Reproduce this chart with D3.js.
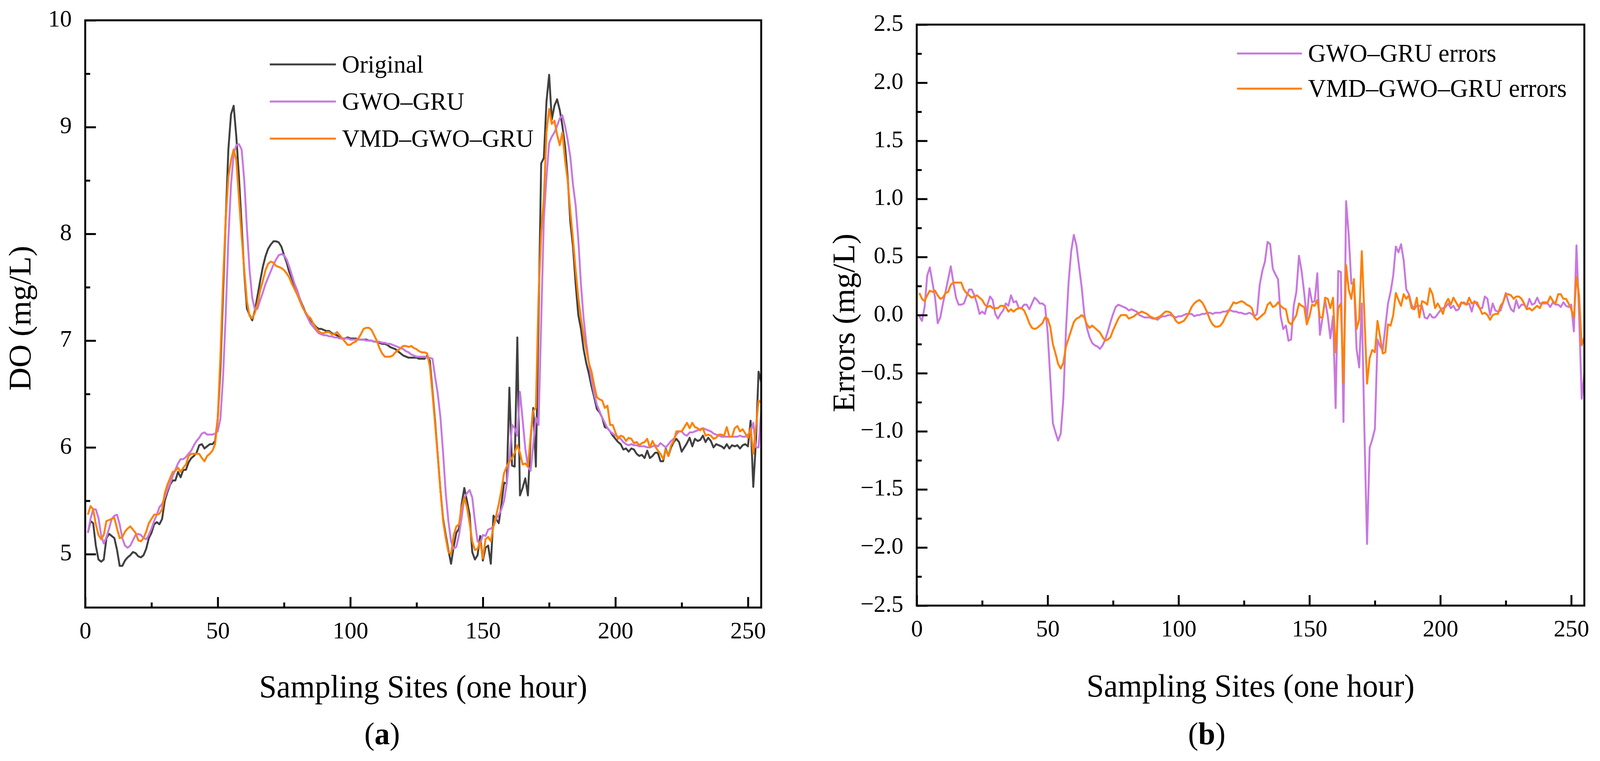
<!DOCTYPE html>
<html lang="en">
<head>
<meta charset="UTF-8" />
<title>DO prediction and errors</title>
<script src="https://cdn.jsdelivr.net/npm/d3@7"></script>
<style>
  html, body { margin: 0; padding: 0; background: #fff; overflow: hidden; }
  svg { display: block; }
  svg text { font-family: "Palatino Linotype", "Book Antiqua", Palatino, "Liberation Serif", serif; fill: #000; }
</style>
</head>
<body>
<script>
// sampling sites (x = 1..255)
const sites = d3.range(1, 256);

// panel (a): dissolved oxygen, mg/L
const doOriginal = [
  5.20, 5.31, 5.29, 5.08, 4.95, 4.93, 4.95, 5.15, 5.19, 5.17,
  5.15, 5.04, 4.89, 4.89, 4.94, 4.97, 4.99, 5.02, 5.01, 4.98,
  4.97, 4.99, 5.05, 5.15, 5.20, 5.28, 5.30, 5.28, 5.33, 5.50,
  5.58, 5.65, 5.69, 5.69, 5.77, 5.72, 5.79, 5.79, 5.86, 5.90,
  5.92, 5.95, 6.02, 6.03, 5.99, 6.01, 6.03, 6.03, 6.06, 6.27,
  6.73, 7.43, 8.14, 8.79, 9.12, 9.20, 8.91, 8.53, 8.08, 7.63,
  7.30, 7.24, 7.19, 7.28, 7.42, 7.56, 7.69, 7.79, 7.86, 7.90,
  7.93, 7.93, 7.92, 7.88, 7.80, 7.73, 7.64, 7.58, 7.51, 7.45,
  7.39, 7.33, 7.27, 7.23, 7.19, 7.16, 7.13, 7.11, 7.11, 7.10,
  7.09, 7.09, 7.07, 7.06, 7.05, 7.03, 7.02, 7.02, 7.03, 7.02,
  7.02, 7.02, 7.01, 7.01, 7.01, 7.01, 7.00, 7.00, 6.99, 6.99,
  6.98, 6.97, 6.97, 6.96, 6.94, 6.93, 6.92, 6.90, 6.88, 6.86,
  6.85, 6.84, 6.84, 6.84, 6.84, 6.83, 6.83, 6.83, 6.86, 6.81,
  6.53, 6.24, 5.92, 5.60, 5.33, 5.18, 5.04, 4.91, 5.07, 5.20,
  5.24, 5.47, 5.62, 5.50, 5.37, 5.02, 4.95, 4.99, 5.17, 4.94,
  5.06, 5.08, 4.91, 5.36, 5.33, 5.29, 5.47, 5.67, 5.66, 6.56,
  5.83, 5.82, 7.03, 5.55, 5.62, 5.71, 5.55, 6.08, 6.37, 5.82,
  7.20, 8.66, 8.71, 9.24, 9.49, 9.07, 9.20, 9.26, 9.16, 9.01,
  8.82, 8.53, 8.11, 7.88, 7.53, 7.24, 7.11, 6.92, 6.79, 6.69,
  6.57, 6.47, 6.36, 6.33, 6.28, 6.19, 6.18, 6.15, 6.11, 6.08,
  6.05, 6.03, 5.98, 5.99, 5.96, 5.99, 5.98, 5.94, 5.92, 5.93,
  5.90, 5.97, 5.90, 5.92, 5.95, 5.95, 5.87, 5.87, 5.99, 5.92,
  6.00, 6.05, 6.08, 6.05, 5.96, 6.00, 6.04, 6.09, 6.01, 6.08,
  6.06, 6.07, 6.11, 6.05, 6.09, 6.06, 6.00, 6.03, 6.02, 6.01,
  5.99, 6.03, 5.99, 6.02, 6.01, 6.02, 5.99, 6.02, 6.03, 6.01,
  6.25, 5.63, 6.05, 6.71, 6.61
];

const doGwoGru = [
  5.20, 5.33, 5.42, 5.42, 5.34, 5.18, 5.10, 5.16, 5.24, 5.33,
  5.36, 5.37, 5.28, 5.15, 5.08, 5.06, 5.08, 5.13, 5.18, 5.19,
  5.18, 5.15, 5.14, 5.18, 5.24, 5.31, 5.37, 5.44, 5.47, 5.53,
  5.60, 5.66, 5.73, 5.79, 5.85, 5.89, 5.89, 5.91, 5.94, 5.97,
  6.02, 6.06, 6.09, 6.13, 6.14, 6.12, 6.12, 6.12, 6.13, 6.15,
  6.27, 6.66, 7.24, 7.95, 8.46, 8.75, 8.83, 8.84, 8.79, 8.50,
  8.05, 7.66, 7.40, 7.29, 7.30, 7.38, 7.45, 7.53, 7.59, 7.65,
  7.71, 7.76, 7.80, 7.81, 7.80, 7.76, 7.69, 7.61, 7.53, 7.47,
  7.39, 7.32, 7.26, 7.21, 7.16, 7.13, 7.10, 7.07, 7.06, 7.05,
  7.05, 7.04, 7.04, 7.03, 7.03, 7.02, 7.02, 7.02, 7.02, 7.01,
  7.01, 7.01, 7.01, 7.01, 7.01, 7.00, 7.00, 7.00, 6.99, 6.99,
  6.99, 6.98, 6.98, 6.97, 6.97, 6.96, 6.95, 6.94, 6.93, 6.92,
  6.90, 6.89, 6.87, 6.86, 6.85, 6.85, 6.85, 6.85, 6.84, 6.84,
  6.83, 6.66, 6.50, 6.28, 5.95, 5.57, 5.31, 5.12, 5.05, 5.07,
  5.18, 5.34, 5.53, 5.57, 5.60, 5.53, 5.31, 5.12, 5.10, 5.18,
  5.17, 5.23, 5.24, 5.26, 5.33, 5.37, 5.42, 5.50, 5.66, 5.89,
  6.21, 6.18, 6.11, 6.52, 6.26, 5.99, 5.82, 5.78, 6.02, 6.28,
  6.21, 7.18, 8.14, 8.53, 8.85, 8.91, 8.95, 9.01, 9.08, 9.11,
  9.01, 8.88, 8.72, 8.46, 8.27, 7.95, 7.53, 7.21, 6.98, 6.79,
  6.63, 6.50, 6.40, 6.34, 6.28, 6.23, 6.18, 6.15, 6.13, 6.11,
  6.10, 6.08, 6.05, 6.03, 6.02, 6.03, 6.02, 6.02, 6.01, 6.01,
  6.01, 6.00, 6.00, 6.01, 6.02, 6.01, 6.04, 6.02, 6.00, 6.03,
  6.06, 6.08, 6.12, 6.15, 6.15, 6.12, 6.11, 6.14, 6.14, 6.15,
  6.16, 6.17, 6.18, 6.17, 6.16, 6.15, 6.13, 6.12, 6.11, 6.10,
  6.10, 6.10, 6.10, 6.10, 6.10, 6.10, 6.11, 6.10, 6.10, 6.12,
  6.15, 6.23, 6.00, 6.00, 6.34
];

const doVmdGwoGru = [
  5.37, 5.45, 5.42, 5.28, 5.18, 5.14, 5.18, 5.31, 5.32, 5.33,
  5.34, 5.24, 5.15, 5.16, 5.21, 5.24, 5.26, 5.23, 5.20, 5.13,
  5.12, 5.15, 5.21, 5.29, 5.33, 5.37, 5.37, 5.38, 5.42, 5.57,
  5.65, 5.71, 5.77, 5.78, 5.81, 5.77, 5.81, 5.84, 5.92, 5.94,
  5.94, 5.94, 5.94, 5.90, 5.87, 5.92, 5.94, 5.97, 6.03, 6.27,
  6.85, 7.56, 8.14, 8.53, 8.69, 8.79, 8.69, 8.33, 7.98, 7.66,
  7.37, 7.23, 7.21, 7.26, 7.35, 7.47, 7.56, 7.66, 7.72, 7.74,
  7.73, 7.70, 7.69, 7.68, 7.66, 7.63, 7.59, 7.53, 7.48, 7.43,
  7.37, 7.31, 7.27, 7.23, 7.21, 7.16, 7.12, 7.09, 7.07, 7.07,
  7.08, 7.08, 7.06, 7.06, 7.08, 7.05, 7.02, 6.99, 6.96, 6.96,
  6.98, 6.99, 7.02, 7.06, 7.11, 7.12, 7.12, 7.10, 7.05, 7.00,
  6.93, 6.88, 6.85, 6.85, 6.85, 6.86, 6.89, 6.91, 6.93, 6.95,
  6.95, 6.94, 6.95, 6.93, 6.92, 6.90, 6.89, 6.89, 6.88, 6.76,
  6.50, 6.21, 5.92, 5.60, 5.31, 5.15, 5.02, 5.00, 5.18, 5.26,
  5.28, 5.44, 5.53, 5.44, 5.29, 5.12, 5.04, 5.05, 5.12, 4.96,
  5.14, 5.16, 5.12, 5.26, 5.36, 5.47, 5.60, 5.76, 5.82, 5.87,
  5.90, 5.95, 6.02, 5.95, 5.84, 5.85, 5.82, 6.10, 6.34, 6.37,
  7.40, 8.01, 8.33, 8.95, 9.17, 9.03, 9.06, 8.93, 8.83, 8.95,
  8.69, 8.50, 8.21, 7.95, 7.66, 7.40, 7.21, 7.05, 6.92, 6.79,
  6.71, 6.58, 6.47, 6.45, 6.44, 6.37, 6.39, 6.21, 6.21, 6.14,
  6.08, 6.11, 6.10, 6.06, 6.09, 6.08, 6.04, 6.05, 6.02, 6.04,
  6.05, 6.08, 6.00, 6.06, 6.01, 5.97, 5.94, 5.89, 5.98, 5.92,
  6.02, 6.06, 6.15, 6.15, 6.15, 6.19, 6.23, 6.18, 6.23, 6.19,
  6.18, 6.16, 6.18, 6.11, 6.12, 6.11, 6.08, 6.09, 6.12, 6.12,
  6.11, 6.19, 6.10, 6.10, 6.18, 6.20, 6.15, 6.17, 6.13, 6.09,
  6.18, 5.94, 6.18, 6.44, 6.42
];

// panel (b): prediction errors, mg/L
const errGwoGru = [
  -0.01, -0.05, 0.07, 0.34, 0.41, 0.28, 0.15, -0.07, -0.02, 0.10,
  0.20, 0.31, 0.42, 0.28, 0.15, 0.09, 0.09, 0.10, 0.16, 0.22,
  0.22, 0.17, 0.10, 0.01, 0.03, 0.01, 0.09, 0.16, 0.13, 0.01,
  -0.03, 0.01, 0.04, 0.10, 0.08, 0.17, 0.11, 0.12, 0.06, 0.06,
  0.09, 0.09, 0.05, 0.10, 0.15, 0.13, 0.10, 0.10, 0.08, -0.15,
  -0.54, -0.93, -1.01, -1.08, -1.02, -0.72, -0.13, 0.28, 0.55, 0.69,
  0.60, 0.42, 0.24, 0.01, -0.11, -0.19, -0.24, -0.26, -0.27, -0.29,
  -0.26, -0.21, -0.14, -0.06, 0.01, 0.07, 0.09, 0.08, 0.07, 0.06,
  0.04, 0.05, 0.04, 0.03, 0.00, -0.01, -0.02, -0.02, -0.02, -0.03,
  -0.03, -0.04, -0.02, -0.01, -0.01, 0.00, 0.00, -0.01, -0.02, -0.01,
  -0.01, 0.00, 0.01, 0.01, 0.01, -0.01, 0.00, 0.00, 0.01, 0.01,
  0.02, 0.02, 0.01, 0.02, 0.02, 0.02, 0.03, 0.03, 0.04, 0.04,
  0.03, 0.03, 0.02, 0.02, 0.01, 0.01, 0.02, 0.01, -0.01, 0.01,
  0.26, 0.38, 0.46, 0.63, 0.61, 0.40, 0.35, 0.31, -0.01, -0.12,
  -0.09, -0.22, -0.21, 0.08, 0.20, 0.51, 0.38, 0.19, -0.03, 0.23,
  0.11, 0.12, 0.36, -0.17, -0.02, 0.13, -0.01, -0.20, -0.01, -0.80,
  0.38, 0.37, -0.92, 0.98, 0.69, 0.27, 0.28, -0.29, -0.45, 0.10,
  -1.00, -1.97, -1.14, -1.07, -0.98, -0.21, -0.27, -0.30, -0.10, 0.10,
  0.20, 0.34, 0.59, 0.54, 0.61, 0.47, 0.22, 0.18, 0.09, 0.05,
  0.08, 0.08, 0.08, -0.02, -0.03, 0.01, -0.02, -0.02, 0.01, 0.04,
  0.06, 0.07, 0.10, 0.06, 0.08, 0.04, 0.05, 0.10, 0.11, 0.09,
  0.10, 0.03, 0.12, 0.09, 0.06, 0.06, 0.16, 0.14, 0.00, 0.10,
  0.04, 0.03, 0.04, 0.11, 0.19, 0.11, 0.05, 0.03, 0.13, 0.06,
  0.09, 0.09, 0.06, 0.14, 0.09, 0.10, 0.15, 0.10, 0.10, 0.10,
  0.10, 0.07, 0.11, 0.09, 0.09, 0.07, 0.11, 0.08, 0.07, 0.09,
  -0.14, 0.60, 0.00, -0.72, -0.50
];

const errVmdGwoGru = [
  0.19, 0.14, 0.12, 0.17, 0.21, 0.20, 0.21, 0.17, 0.14, 0.15,
  0.19, 0.20, 0.26, 0.28, 0.28, 0.28, 0.28, 0.22, 0.19, 0.17,
  0.15, 0.16, 0.17, 0.15, 0.13, 0.09, 0.07, 0.08, 0.06, 0.06,
  0.06, 0.08, 0.08, 0.07, 0.03, 0.05, 0.03, 0.05, 0.06, 0.06,
  0.04, -0.01, -0.07, -0.11, -0.12, -0.11, -0.09, -0.07, -0.02, -0.03,
  -0.10, -0.25, -0.33, -0.42, -0.46, -0.41, -0.27, -0.20, -0.13, -0.06,
  -0.03, -0.02, 0.00, -0.02, -0.08, -0.11, -0.09, -0.11, -0.13, -0.15,
  -0.19, -0.22, -0.21, -0.19, -0.13, -0.08, -0.03, 0.00, 0.00, 0.00,
  -0.03, -0.02, -0.01, 0.01, 0.02, 0.03, 0.02, 0.01, -0.01, -0.02,
  -0.03, -0.02, -0.01, 0.01, 0.03, 0.03, 0.02, -0.01, -0.05, -0.07,
  -0.06, -0.05, -0.02, 0.02, 0.07, 0.10, 0.12, 0.13, 0.11, 0.07,
  0.02, -0.04, -0.08, -0.10, -0.10, -0.09, -0.06, -0.01, 0.03, 0.07,
  0.11, 0.10, 0.11, 0.12, 0.11, 0.09, 0.08, 0.06, -0.02, -0.04,
  -0.02, 0.00, 0.02, 0.09, 0.11, 0.07, 0.08, 0.11, 0.08, 0.06,
  0.05, -0.06, -0.08, -0.04, 0.00, 0.10, 0.08, 0.07, -0.08, -0.01,
  0.09, 0.08, 0.13, -0.02, -0.02, 0.15, 0.14, 0.06, 0.15, -0.32,
  0.06, 0.10, -0.58, 0.43, 0.22, 0.14, 0.31, -0.12, -0.04, 0.55,
  0.00, -0.59, -0.37, -0.30, -0.32, -0.05, -0.19, -0.33, -0.32, -0.08,
  -0.09, 0.00, 0.19, 0.13, 0.08, 0.18, 0.14, 0.17, 0.06, 0.05,
  0.15, -0.02, 0.12, 0.11, 0.09, 0.23, 0.18, 0.06, 0.10, 0.06,
  0.01, 0.10, 0.14, 0.09, 0.15, 0.11, 0.07, 0.11, 0.10, 0.09,
  0.15, 0.10, 0.11, 0.11, 0.06, 0.01, 0.02, 0.00, -0.04, 0.00,
  0.01, 0.01, 0.08, 0.11, 0.18, 0.18, 0.17, 0.14, 0.16, 0.16,
  0.14, 0.10, 0.05, 0.06, 0.04, 0.06, 0.08, 0.06, 0.11, 0.11,
  0.11, 0.16, 0.12, 0.10, 0.18, 0.18, 0.14, 0.14, 0.10, 0.05,
  -0.02, 0.33, 0.17, -0.26, -0.19
];

// ticks
const xTicks = [0, 50, 100, 150, 200, 250];
const xMinorTicks = [25, 75, 125, 175, 225];
const doTicks = [5, 6, 7, 8, 9, 10];
const doMinorTicks = [5.5, 6.5, 7.5, 8.5, 9.5];
const errTicks = [-2.5, -2.0, -1.5, -1.0, -0.5, 0.0, 0.5, 1.0, 1.5, 2.0, 2.5];
const errMinorTicks = [-2.25, -1.75, -1.25, -0.75, -0.25, 0.25, 0.75, 1.25, 1.75, 2.25];

const colors = { original: "#404040", gwo: "#c878e0", vmd: "#ff8000" };

const width = 4187;
const height = 1949;

// laid out in a 4187x1949 box, stretched to fill the window exactly
const svg = d3
  .select("body")
  .append("svg")
  .attr("viewBox", `0 0 ${width} ${height}`)
  .attr("preserveAspectRatio", "none")
  .style("width", "100vw")
  .style("height", "100vh");

function drawPanel(p) {
  const x = d3.scaleLinear().domain([0, 255]).range([p.left, p.right]);
  const y = d3.scaleLinear().domain(p.yDomain).range([p.bottom, p.top]);
  const g = svg.append("g");

  // series lines
  const line = d3
    .line()
    .x((d, i) => x(sites[i]))
    .y((d) => y(d));

  p.series.forEach((s) => {
    g.append("path")
      .datum(s.values)
      .attr("fill", "none")
      .attr("stroke", s.color)
      .attr("stroke-width", 5)
      .attr("stroke-linejoin", "round")
      .attr("d", line);
  });

  // ticks point inwards, minor ones shorter
  const tidy = (sel) => {
    sel.select(".domain").remove();
    sel.selectAll(".tick line").attr("stroke-width", 5);
    sel.selectAll("text").style("font-size", "62px");
  };

  g.append("g")
    .attr("transform", `translate(0,${p.bottom})`)
    .call(d3.axisBottom(x).tickValues(xMinorTicks).tickSizeInner(-13).tickSizeOuter(0).tickFormat(""))
    .call(tidy);
  g.append("g")
    .attr("transform", `translate(0,${p.bottom})`)
    .call(d3.axisBottom(x).tickValues(xTicks).tickSizeInner(-27).tickSizeOuter(0).tickPadding(35))
    .call(tidy);

  g.append("g")
    .attr("transform", `translate(${p.left},0)`)
    .call(d3.axisLeft(y).tickValues(p.yMinor).tickSizeInner(-13).tickSizeOuter(0).tickFormat(""))
    .call(tidy);
  g.append("g")
    .attr("transform", `translate(${p.left},0)`)
    .call(d3.axisLeft(y).tickValues(p.yTicks).tickSizeInner(-28).tickSizeOuter(0).tickPadding(35).tickFormat(p.yFormat))
    .call(tidy)
    .call((a) => a.selectAll("text").attr("dy", "0.25em"));

  // frame
  g.append("rect")
    .attr("x", p.left)
    .attr("y", p.top)
    .attr("width", p.right - p.left)
    .attr("height", p.bottom - p.top)
    .attr("fill", "none")
    .attr("stroke", "#000")
    .attr("stroke-width", 5);

  // axis titles
  g.append("text")
    .attr("x", (p.left + p.right) / 2)
    .attr("y", p.xTitleY)
    .attr("text-anchor", "middle")
    .style("font-size", "82px")
    .text("Sampling Sites (one hour)");

  g.append("text")
    .attr("transform", `translate(${p.yTitleX},${p.yTitleCy}) rotate(-90)`)
    .attr("text-anchor", "middle")
    .style("font-size", "82px")
    .text(p.yTitle);

  // panel label
  const lab = g
    .append("text")
    .attr("x", p.labelX)
    .attr("y", 1906)
    .attr("text-anchor", "middle")
    .style("font-size", "80px");
  lab.append("tspan").text("(");
  lab.append("tspan").attr("font-weight", "bold").text(p.label);
  lab.append("tspan").text(")");

  // legend
  p.series.forEach((s, i) => {
    const ly = p.legend.y0 + i * p.legend.dy;
    g.append("line")
      .attr("x1", p.legend.x1)
      .attr("x2", p.legend.x2)
      .attr("y1", ly)
      .attr("y2", ly)
      .attr("stroke", s.color)
      .attr("stroke-width", 5);
    g.append("text")
      .attr("x", p.legend.x2 + 16)
      .attr("y", ly)
      .attr("dy", "0.33em")
      .style("font-size", p.legend.size)
      .text(s.name);
  });
}

drawPanel({
  left: 223, right: 1992, top: 52, bottom: 1556,
  yDomain: [4.5, 10],
  yTicks: doTicks,
  yMinor: doMinorTicks,
  yFormat: d3.format("d"),
  yTitle: "DO (mg/L)",
  yTitleX: 80, yTitleCy: 815,
  xTitleY: 1786,
  label: "a", labelX: 1000,
  legend: { x1: 706, x2: 879, y0: 165, dy: 95, size: "64px" },
  series: [
    { name: "Original", values: doOriginal, color: colors.original },
    { name: "GWO\u2013GRU", values: doGwoGru, color: colors.gwo },
    { name: "VMD\u2013GWO\u2013GRU", values: doVmdGwoGru, color: colors.vmd }
  ]
});

drawPanel({
  left: 2399, right: 4146, top: 63, bottom: 1551,
  yDomain: [-2.5, 2.5],
  yTicks: errTicks,
  yMinor: errMinorTicks,
  yFormat: d3.format(".1f"),
  yTitle: "Errors (mg/L)",
  yTitleX: 2236, yTitleCy: 827,
  xTitleY: 1784,
  label: "b", labelX: 3158,
  legend: { x1: 3237, x2: 3407, y0: 137, dy: 90, size: "65px" },
  series: [
    { name: "GWO\u2013GRU errors", values: errGwoGru, color: colors.gwo },
    { name: "VMD\u2013GWO\u2013GRU errors", values: errVmdGwoGru, color: colors.vmd }
  ]
});
</script>
</body>
</html>
